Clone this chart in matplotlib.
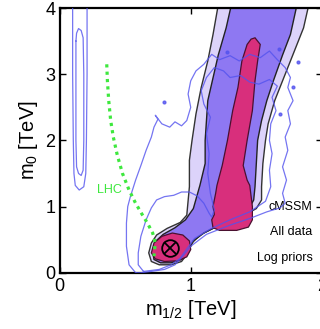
import numpy as np
import matplotlib
matplotlib.use('Agg')
import matplotlib.pyplot as plt

plt.rcParams['font.family'] = ['Liberation Sans', 'DejaVu Sans']
plt.rcParams['mathtext.fontset'] = 'custom'
plt.rcParams['mathtext.rm'] = 'Liberation Sans'

# m_1/2, m_0 in TeV
band95 = np.array([(0.97, 0.87), (0.99, 1.3), (0.99, 1.7), (1.01, 2.0), (1.04, 2.4), (1.08, 2.8),
                   (1.13, 3.2), (1.17, 3.6), (1.21, 4.05), (1.90, 4.05), (1.86, 3.7), (1.78, 3.3),
                   (1.70, 2.9), (1.64, 2.6), (1.59, 2.25), (1.57, 2.0), (1.55, 1.65), (1.54, 1.3),
                   (1.54, 1.1), (1.50, 0.97), (1.42, 0.88), (1.30, 0.78), (1.18, 0.68), (1.07, 0.57),
                   (1.01, 0.45), (0.98, 0.3), (0.93, 0.17), (0.85, 0.12), (0.76, 0.12), (0.70, 0.17),
                   (0.68, 0.3), (0.70, 0.45), (0.74, 0.57), (0.82, 0.67), (0.92, 0.76)])
band68 = np.array([(1.31, 4.05), (1.81, 4.05), (1.76, 3.6), (1.70, 3.29), (1.63, 2.9), (1.58, 2.6),
                   (1.54, 2.3), (1.51, 2.0), (1.50, 1.65), (1.49, 1.3), (1.48, 1.1), (1.44, 0.95),
                   (1.35, 0.83), (1.22, 0.72), (1.10, 0.6), (1.02, 0.48), (0.98, 0.33), (0.93, 0.2),
                   (0.85, 0.15), (0.77, 0.15), (0.72, 0.2), (0.71, 0.32), (0.73, 0.47), (0.79, 0.58),
                   (0.88, 0.68), (0.96, 0.8), (1.02, 0.97), (1.07, 1.32), (1.11, 1.65), (1.11, 2.0),
                   (1.13, 2.6), (1.21, 3.29), (1.27, 3.7)])
core_upper = np.array([(1.49, 3.55), (1.53, 3.45), (1.51, 3.2), (1.49, 2.9), (1.47, 2.45), (1.43, 2.0),
                       (1.40, 1.62), (1.43, 1.4), (1.45, 1.32), (1.47, 1.0), (1.47, 0.8), (1.44, 0.69),
                       (1.35, 0.64), (1.22, 0.64), (1.17, 0.68), (1.16, 0.8), (1.18, 0.88), (1.17, 1.0),
                       (1.19, 1.2), (1.20, 1.32), (1.24, 1.62), (1.28, 2.0), (1.32, 2.45), (1.36, 2.8),
                       (1.39, 3.2), (1.43, 3.45), (1.46, 3.53)])
core_lower = np.array([(0.70, 0.30), (0.72, 0.45), (0.78, 0.55), (0.86, 0.60), (0.94, 0.57), (0.99, 0.48),
                       (1.00, 0.35), (0.97, 0.24), (0.90, 0.18), (0.80, 0.17), (0.73, 0.21)])
best_fit = (0.84, 0.38)

# other analysis, thin blue contours
blue_outer = np.array([(0.58, 0.0), (0.53, 0.12), (0.51, 0.4), (0.51, 0.75), (0.52, 1.0), (0.54, 1.15),
                       (0.58, 1.4), (0.62, 1.62), (0.66, 1.85), (0.70, 2.05), (0.72, 2.2), (0.75, 2.32),
                       (0.73, 2.38), (0.78, 2.25), (0.84, 2.2), (0.88, 2.28), (0.93, 2.22), (0.97, 2.3),
                       (1.0, 2.5), (0.98, 2.7), (1.0, 2.9), (1.04, 3.05), (1.10, 3.15), (1.16, 3.3),
                       (1.22, 3.22), (1.30, 3.28), (1.37, 3.2), (1.45, 3.3), (1.53, 3.25), (1.60, 3.35),
                       (1.66, 3.22), (1.72, 3.1), (1.76, 2.95), (1.74, 2.8), (1.78, 2.6), (1.74, 2.45),
                       (1.76, 2.25), (1.72, 2.05), (1.74, 1.85), (1.70, 1.6), (1.73, 1.4), (1.70, 1.2),
                       (1.72, 1.05), (1.68, 0.98), (1.58, 0.92), (1.45, 0.82), (1.30, 0.72), (1.12, 0.58),
                       (1.0, 0.4), (0.94, 0.25), (0.88, 0.12), (0.80, 0.05), (0.70, 0.02), (0.62, 0.0),
                       (0.58, 0.0)])
blue_inner = np.array([(0.64, 0.02), (0.60, 0.12), (0.60, 0.3), (0.62, 0.55), (0.66, 0.8), (0.70, 0.98),
                       (0.74, 1.1), (0.80, 1.15), (0.87, 1.17), (0.93, 1.22), (0.99, 1.22), (1.05, 1.16),
                       (1.10, 1.05), (1.14, 0.9), (1.16, 0.84), (1.18, 0.95), (1.15, 1.2), (1.13, 1.5),
                       (1.14, 1.8), (1.12, 2.1), (1.15, 2.35), (1.10, 2.55), (1.08, 2.75), (1.12, 2.95),
                       (1.18, 3.1), (1.25, 3.05), (1.30, 2.95), (1.38, 2.98), (1.45, 2.88), (1.52, 2.85),
                       (1.60, 2.92), (1.66, 2.82), (1.62, 2.65), (1.65, 2.45), (1.61, 2.25), (1.60, 2.0),
                       (1.62, 1.8), (1.60, 1.55), (1.61, 1.3), (1.57, 1.08), (1.45, 0.92), (1.30, 0.8),
                       (1.15, 0.66), (1.03, 0.52), (0.97, 0.36), (0.92, 0.22), (0.85, 0.12), (0.76, 0.05),
                       (0.64, 0.02)])
blue_left_outer = np.array([(0.10, 4.1), (0.10, 3.0), (0.105, 2.0), (0.11, 1.5), (0.12, 1.32), (0.15, 1.25),
                            (0.185, 1.3), (0.20, 1.5), (0.205, 2.0), (0.21, 3.0), (0.21, 4.1)])
blue_left_inner = np.array([(0.125, 3.5), (0.13, 3.62), (0.145, 3.69), (0.165, 3.66), (0.18, 3.55),
                            (0.185, 3.0), (0.185, 2.0), (0.18, 1.55), (0.165, 1.47), (0.145, 1.5),
                            (0.13, 1.6), (0.125, 2.0), (0.125, 3.0), (0.125, 3.5)])
blue_dots_x = [1.28, 1.67, 1.82, 0.80, 1.68, 1.78]
blue_dots_y = [3.33, 3.38, 3.18, 2.58, 2.40, 2.80]

# LHC limit
lhc_x = [0.36, 0.365, 0.375, 0.39, 0.41, 0.44, 0.48, 0.53, 0.58, 0.63, 0.67, 0.71, 0.73, 0.72]
lhc_y = [3.15, 2.9, 2.6, 2.3, 2.05, 1.78, 1.5, 1.25, 1.05, 0.88, 0.75, 0.6, 0.45, 0.25]

fig = plt.figure(figsize=(3.2, 3.29), dpi=100)
ax = fig.add_axes([0.186, 0.171, 0.82, 0.8046])

ax.fill(band95[:, 0], band95[:, 1], facecolor='#dcd3fa', edgecolor='#333333', lw=1.0, zorder=1)
ax.fill(band68[:, 0], band68[:, 1], facecolor='#8e78f2', edgecolor='#222222', lw=1.0, zorder=2)
for reg in (core_upper, core_lower):
    ax.fill(reg[:, 0], reg[:, 1], facecolor='#d82f7c', edgecolor='#4a1030', lw=0.9, zorder=3)

blue = '#5252ee'
for c in (blue_outer, blue_inner, blue_left_outer, blue_left_inner):
    ax.plot(c[:, 0], c[:, 1], color=blue, lw=0.9, alpha=0.8, zorder=4)
ax.plot(blue_dots_x, blue_dots_y, 'o', color=blue, ms=2, alpha=0.8, zorder=4)

ax.plot(lhc_x, lhc_y, color='#3ee83e', lw=2.3, linestyle=(0, (1, 1.3)), zorder=5)
ax.text(0.38, 1.25, 'LHC', color='#3ee83e', fontsize=9, ha='center', va='center', zorder=5)

ax.plot(*best_fit, 'o', ms=12, mfc='none', mec='black', mew=1.3, zorder=6)
ax.plot(*best_fit, 'x', ms=8, mec='black', mew=1.3, zorder=6)

ax.text(1.93, 0.99, 'cMSSM', ha='right', va='center', fontsize=9)
ax.text(1.93, 0.61, 'All data', ha='right', va='center', fontsize=9)
ax.text(1.93, 0.22, 'Log priors', ha='right', va='center', fontsize=9)

ax.set_xlim(0, 2)
ax.set_ylim(0, 4)
ax.set_xticks([0, 1, 2])
ax.set_yticks([0, 1, 2, 3, 4])
ax.tick_params(direction='in', top=True, right=True, labelsize=13, width=1, length=4)
ax.tick_params(axis='x', pad=4)
ax.tick_params(axis='y', pad=3)
for s in ax.spines.values():
    s.set_linewidth(1.6)
ax.set_xlabel(r'm$_{\rm 1/2}$ [TeV]', fontsize=14.5, labelpad=2)
ax.set_ylabel(r'm$_{\rm 0}$ [TeV]', fontsize=14.5, labelpad=4)

fig.savefig('out.png', dpi=100)
